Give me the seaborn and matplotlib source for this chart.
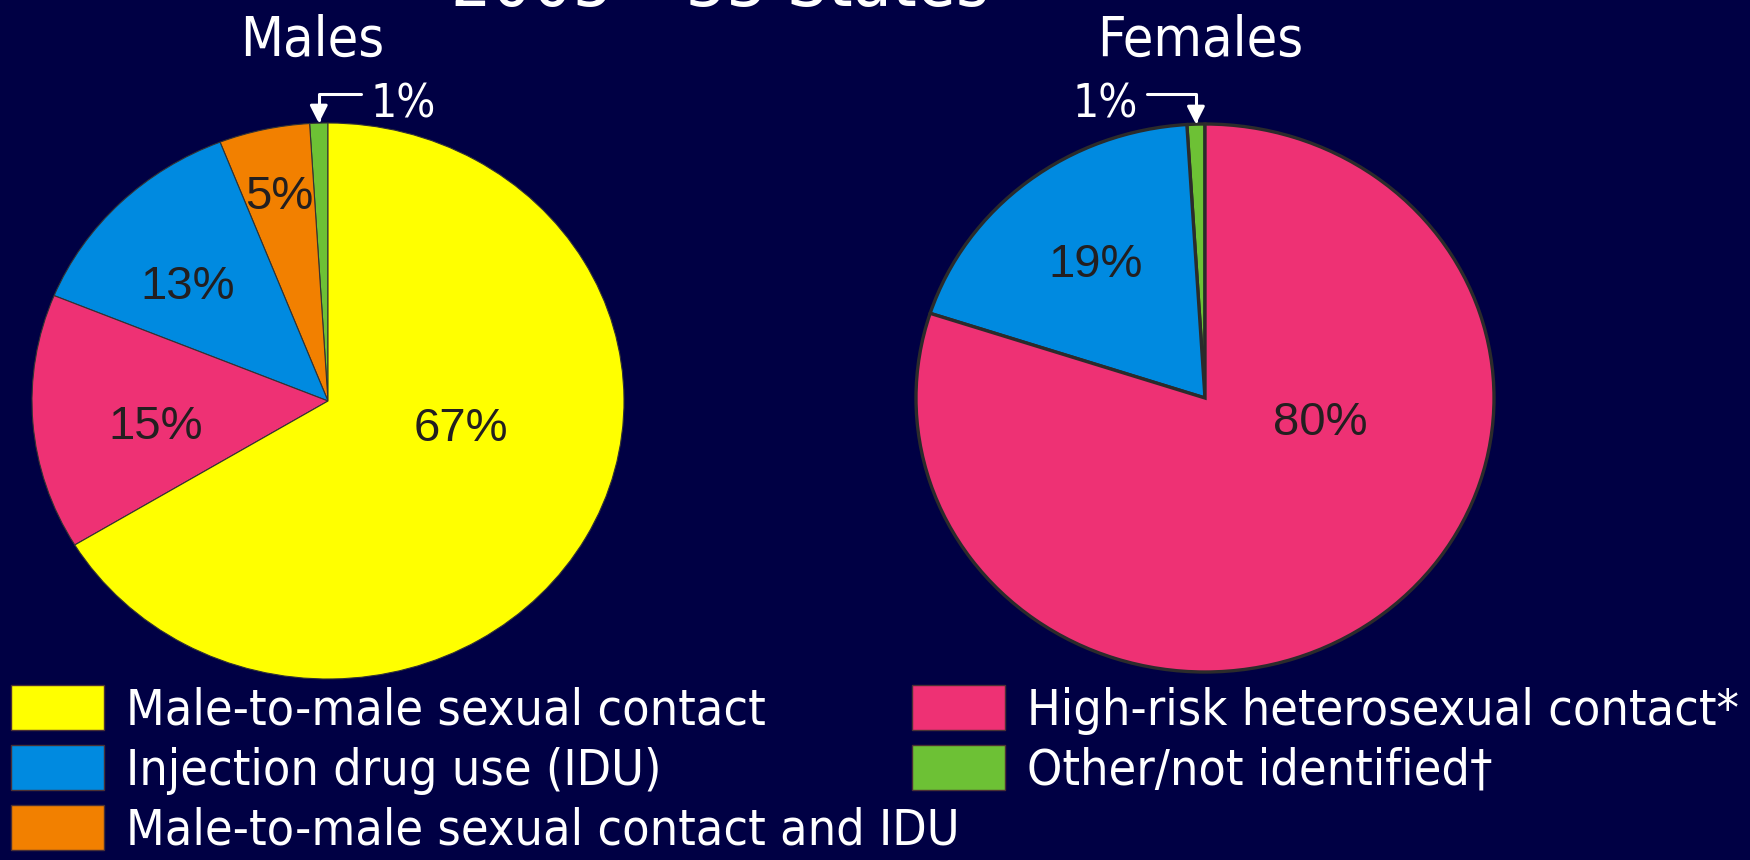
import numpy as np
import matplotlib
matplotlib.use("Agg")
import matplotlib.pyplot as plt
import seaborn as sns
from matplotlib import font_manager
from matplotlib.patches import Patch

# data
categories = ["Male-to-male sexual contact",
              "Injection drug use (IDU)",
              "Male-to-male sexual contact and IDU",
              "High-risk heterosexual contact*",
              "Other/not identified\u2020"]
males_pct = [67, 13, 5, 15, 1]
females_pct = [None, 19, None, 80, 1]
panel_titles = ["Males", "Females"]
headline = "2005 \u2013 33 States"

# styling
bg = "#000044"
palette = sns.color_palette(["#FFFF00", "#008AE0", "#F28000", "#EE3174", "#6DC135"])
draw_order = [4, 2, 1, 3, 0]   # counter-clockwise from 12 o'clock
left_legend = [0, 1, 2]
right_legend = [3, 4]

sns.set_style("white")
names = {f.name for f in font_manager.fontManager.ttflist}
if "Liberation Sans Narrow" in names:
    narrow = dict(family="Liberation Sans Narrow")
else:
    narrow = dict(family="DejaVu Sans", stretch="condensed")
pct_family = "Liberation Sans" if "Liberation Sans" in names else "DejaVu Sans"

W, H = 1750, 860
fig = plt.figure(figsize=(W / 100, H / 100), dpi=100, facecolor=bg)

# per panel: ellipse centre / radii in pixels, edge style, label spots (r, deg)
panels = [
    dict(vals=males_pct, geom=(328, 401, 296, 278), edge=("#333333", 0.8),
         spots={0: (0.458, -10.4), 1: (0.64, 138), 2: (0.77, 102.4), 3: (0.586, 187.4)},
         callout=((0.253, 1.083), (0, 0.75)), title_x=312),
    dict(vals=females_pct, geom=(1205, 398, 289, 274), edge=("#2b2b2b", 2.4),
         spots={1: (0.63, 126.8), 3: (0.405, -10.4)},
         callout=((-0.346, 1.088), (1, 0.75)), title_x=1200),
]

for p, title in zip(panels, panel_titles):
    cx, cy, rx, ry = p["geom"]
    ax = fig.add_axes([(cx - rx) / W, (H - cy - ry) / H, 2 * rx / W, 2 * ry / H])
    idx = [i for i in draw_order if p["vals"][i]]
    wedges, _ = ax.pie([p["vals"][i] for i in idx], colors=[palette[i] for i in idx],
                       startangle=90, counterclock=True,
                       wedgeprops=dict(edgecolor=p["edge"][0], linewidth=p["edge"][1]))
    ax.set_xlim(-1, 1)
    ax.set_ylim(-1, 1)
    ax.set_aspect("auto")
    ax.set_axis_off()

    for w, i in zip(wedges, idx):
        v = p["vals"][i]
        if i in p["spots"]:
            r, ang = p["spots"][i]
            a = np.deg2rad(ang)
            ax.text(r * np.cos(a), r * np.sin(a), f"{v}%", ha="center",
                    va="center_baseline", fontsize=34, color="#231F20",
                    family=pct_family)
        else:
            mid = np.deg2rad((w.theta1 + w.theta2) / 2)
            (tx, ty), rel = p["callout"]
            ax.annotate(f"{v}%", xy=(np.cos(mid), np.sin(mid)), xytext=(tx, ty),
                        ha="center", va="center_baseline", fontsize=33,
                        color="white", annotation_clip=False, **narrow,
                        arrowprops=dict(arrowstyle="-|>,head_length=0.75,head_width=0.38",
                                        connectionstyle="angle,angleA=0,angleB=90,rad=0",
                                        color="white", lw=2.2, mutation_scale=14,
                                        shrinkA=4, shrinkB=0, relpos=rel))

    fig.text(p["title_x"] / W, 1 - 56 / H, title,
             ha="center", va="baseline", fontsize=40, color="white", **narrow)

fig.text(720 / W, 1 - 6 / H, headline, ha="center", va="baseline",
         fontsize=51, color="white", **narrow)

leg_font = font_manager.FontProperties(size=36, **narrow)
for cols, x0 in [(left_legend, 11), (right_legend, 912)]:
    handles = [Patch(facecolor=palette[i], edgecolor="#4a3035", linewidth=1) for i in cols]
    fig.legend(handles, [categories[i] for i in cols], loc="upper left",
               bbox_to_anchor=(x0 / W, 1 - 685 / H), frameon=False, prop=leg_font,
               labelcolor="white", borderaxespad=0, borderpad=0,
               handlelength=1.86, handleheight=1.02, handletextpad=0.44,
               labelspacing=0.2)

fig.savefig("out.png", dpi=100, facecolor=bg)
